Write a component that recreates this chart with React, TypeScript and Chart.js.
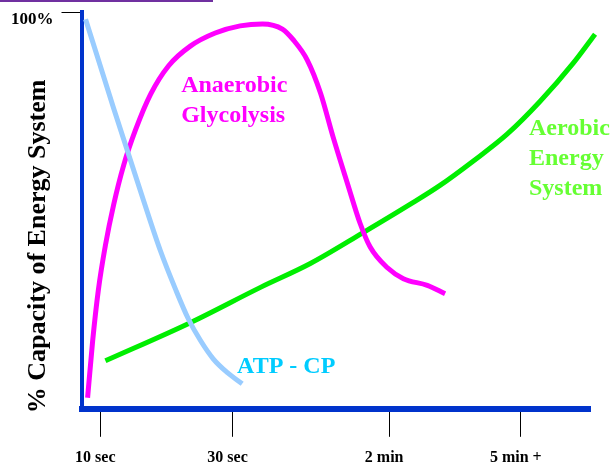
import React, { useEffect, useRef } from 'react';
import { Chart, registerables } from 'chart.js';

Chart.register(...registerables);

// Relative exercise duration (x, 0..100) vs % capacity of energy system (y, 0..100)
const X_TICK_VALUES = [3.7, 29.7, 60.5, 86.4];
const X_TICK_LABELS = ['10 sec', '30 sec', '2 min', '5 min +'];
const Y_TICK_VALUES = [100];
const Y_TICK_LABELS = ['100%'];
const Y_TITLE = '% Capacity of Energy System';

const ATP_X = [0.8, 6.3, 12.2, 15.5, 18.5, 21.0, 23.4, 25.9, 28.7, 31.6];
const ATP_Y = [98.2, 75.8, 52.5, 39.9, 30.1, 22.7, 17.2, 12.6, 9.1, 6.3];

const ANA_X = [1.2, 2.2, 3.3, 4.7, 6.3, 8.3, 10.6, 13.6, 17.1, 21.4, 26.3, 31.2, 35.6, 39.5, 41.7, 44.4, 47.0, 49.5, 52.3, 54.8, 56.8, 60.1, 63.3, 68.0, 71.5];
const ANA_Y = [2.8, 17.2, 29.8, 41.2, 51.3, 61.4, 70.2, 79.3, 86.4, 91.4, 94.7, 96.5, 97.0, 95.7, 92.9, 87.9, 79.6, 68.4, 56.8, 46.7, 40.7, 35.6, 32.8, 31.1, 29.0];

const AER_X = [4.7, 21.4, 35.2, 45.0, 55.4, 64.6, 70.5, 77.0, 83.7, 90.2, 96.7, 101.0];
const AER_Y = [12.1, 21.7, 30.6, 36.6, 44.4, 51.5, 56.3, 62.4, 69.2, 77.5, 87.1, 94.4];

const SERIES_LABELS = [
  { lines: ['Anaerobic', 'Glycolysis'], x: 19.6, y: 79.8, color: '#ff00ff' },
  { lines: ['Aerobic', 'Energy', 'System'], x: 88.0, y: 68.9, color: '#66ff33' },
  { lines: ['ATP - CP'], x: 30.6, y: 9.1, color: '#00ccff' },
];

const SERIF = '"Liberation Serif", "Times New Roman", serif';
const AXIS_BLUE = '#0033cc';

const zip = (xs: number[], ys: number[]) => xs.map((x, i) => ({ x, y: ys[i] }));

const decorPlugin = {
  id: 'decor',
  afterDraw(chart: any) {
    const { ctx, chartArea, scales } = chart;
    const xs = scales.x;
    const ys = scales.y;
    ctx.save();
    // thin purple rule at the very top
    ctx.fillStyle = '#7030a0';
    ctx.fillRect(0, 0, 213, 2);

    // series labels
    ctx.font = `bold 24px ${SERIF}`;
    ctx.textAlign = 'left';
    ctx.textBaseline = 'alphabetic';
    SERIES_LABELS.forEach((l) => {
      const px = xs.getPixelForValue(l.x);
      const py = ys.getPixelForValue(l.y);
      ctx.fillStyle = l.color;
      l.lines.forEach((t, i) => ctx.fillText(t, px, py + i * 30));
    });

    // y-axis title
    ctx.translate(chartArea.left - 37, (chartArea.top + chartArea.bottom) / 2 + 36);
    ctx.rotate(-Math.PI / 2);
    ctx.font = `bold 26px ${SERIF}`;
    ctx.fillStyle = '#000';
    ctx.textAlign = 'center';
    ctx.fillText(Y_TITLE, 0, 0);
    ctx.restore();
  },
};

export default function App() {
  const ref = useRef<HTMLCanvasElement>(null);
  useEffect(() => {
    if (!ref.current) return;
    const common = {
      fill: false,
      pointRadius: 0,
      borderWidth: 5,
      cubicInterpolationMode: 'monotone' as const,
      clip: false as any,
    };
    const chart = new Chart(ref.current, {
      type: 'line',
      data: {
        datasets: [
          { ...common, label: 'ATP - CP', data: zip(ATP_X, ATP_Y), borderColor: '#99ccff' },
          { ...common, label: 'Anaerobic Glycolysis', data: zip(ANA_X, ANA_Y), borderColor: '#ff00ff' },
          { ...common, label: 'Aerobic Energy System', data: zip(AER_X, AER_Y), borderColor: '#00ee00' },
        ],
      },
      options: {
        animation: false,
        responsive: false,
        layout: { padding: { top: 12, left: 3, right: 25, bottom: -15 } },
        plugins: { legend: { display: false }, tooltip: { enabled: false }, title: { display: false } },
        scales: {
          x: {
            type: 'linear',
            min: 0,
            max: 100,
            afterBuildTicks: (axis: any) => {
              axis.ticks = X_TICK_VALUES.map((v) => ({ value: v }));
            },
            ticks: {
              autoSkip: false,
              maxRotation: 0,
              padding: 11,
              labelOffset: -5,
              color: '#000',
              font: { family: SERIF, size: 16, weight: 'bold' },
              callback: (v: any) => X_TICK_LABELS[X_TICK_VALUES.indexOf(Number(v))] ?? '',
            },
            grid: { drawOnChartArea: false, drawTicks: true, tickLength: 28, color: '#000', lineWidth: 1 },
            border: { display: true, color: AXIS_BLUE, width: 6 },
          },
          y: {
            type: 'linear',
            min: 0,
            max: 100,
            afterBuildTicks: (axis: any) => {
              axis.ticks = Y_TICK_VALUES.map((v) => ({ value: v }));
            },
            ticks: {
              padding: 8,
              labelOffset: 8,
              color: '#000',
              font: { family: SERIF, size: 17, weight: 'bold', lineHeight: 0.4 },
              callback: (v: any) => Y_TICK_LABELS[Y_TICK_VALUES.indexOf(Number(v))] ?? '',
            },
            grid: { drawOnChartArea: false, drawTicks: true, tickLength: 20, color: '#000', lineWidth: 1 },
            border: { display: true, color: AXIS_BLUE, width: 4 },
          },
        },
      } as any,
      plugins: [decorPlugin],
    });
    return () => chart.destroy();
  }, []);
  return (
    <div style={{ position: 'absolute', left: 0, top: 0, width: 615, height: 463, background: '#fff' }}>
      <canvas ref={ref} width={615} height={463} />
    </div>
  );
}
